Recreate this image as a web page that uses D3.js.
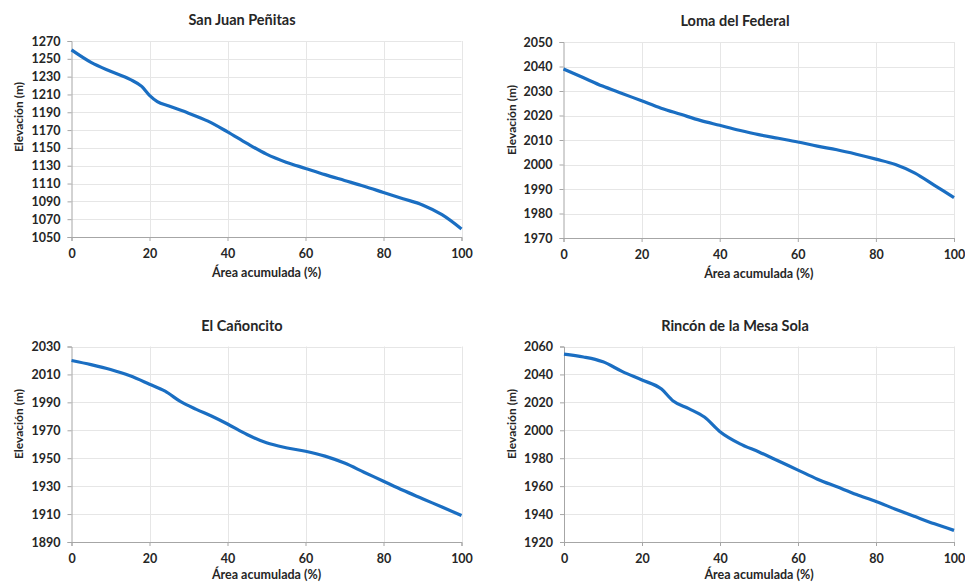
<!DOCTYPE html>
<html>
<head>
<meta charset="utf-8">
<script src="https://cdn.jsdelivr.net/npm/d3@7"></script>
<style>
  html, body { margin: 0; padding: 0; background: #fff; }
  svg { display: block; }
  text { font-family: Lato, "Open Sans", sans-serif; font-weight: bold; fill: #262626; }
</style>
</head>
<body>
<svg id="chart" width="965" height="583"></svg>
<script>
// Hypsometric curves: cumulative area (%) vs elevation (m) for four basins
const sanJuanArea = [0, 5, 10, 15, 18, 20, 22, 25, 30, 35, 40, 45, 50, 55, 60, 65, 70, 75, 80, 85, 90, 95, 100];
const sanJuanElev = [1260, 1246, 1236, 1227, 1219, 1209, 1202, 1197, 1189, 1180, 1168, 1155, 1143, 1134, 1127, 1120, 1113.5, 1107, 1100, 1093, 1086, 1075, 1059];

const lomaArea = [0, 5, 10, 15, 20, 25, 30, 35, 40, 45, 50, 55, 60, 65, 70, 75, 80, 85, 90, 95, 100];
const lomaElev = [2039, 2035.5, 2032, 2029, 2026, 2023, 2020.5, 2018, 2016, 2014, 2012.2, 2010.7, 2009.2, 2007.5, 2006, 2004.2, 2002.2, 2000, 1996.5, 1991.5, 1986.5];

const canoncitoArea = [0, 5, 10, 15, 20, 24, 28, 32, 36, 40, 45, 50, 55, 60, 65, 70, 75, 80, 85, 90, 95, 100];
const canoncitoElev = [2020, 2017, 2013.5, 2009, 2003, 1998, 1990.5, 1985, 1980, 1974.5, 1967, 1961, 1957.5, 1955, 1951.5, 1946.5, 1940, 1933.5, 1927, 1921, 1915, 1909];

const rinconArea = [0, 5, 8, 10, 15, 20, 25, 28, 32, 36, 40, 45, 50, 55, 60, 65, 70, 75, 80, 85, 90, 95, 100];
const rinconElev = [2054.5, 2052.5, 2050.8, 2049, 2042, 2036, 2029.5, 2021, 2015.5, 2009.5, 1999, 1990.5, 1984.5, 1978, 1971.5, 1965, 1959.5, 1954, 1949, 1943.5, 1938.2, 1933, 1928.3];

const xTicks = [0, 20, 40, 60, 80, 100];
const sanJuanTicks = [1050, 1070, 1090, 1110, 1130, 1150, 1170, 1190, 1210, 1230, 1250, 1270];
const lomaTicks = [1970, 1980, 1990, 2000, 2010, 2020, 2030, 2040, 2050];
const canoncitoTicks = [1890, 1910, 1930, 1950, 1970, 1990, 2010, 2030];
const rinconTicks = [1920, 1940, 1960, 1980, 2000, 2020, 2040, 2060];

const titles = ["San Juan Peñitas", "Loma del Federal", "El Cañoncito", "Rincón de la Mesa Sola"];
const xLabel = "Área acumulada (%)";
const yLabel = "Elevación (m)";

const panels = [
  { title: titles[0], xs: sanJuanArea, ys: sanJuanElev, ticks: sanJuanTicks,
    box: { l: 71.5, r: 461.5, t: 41, b: 237 }, titleX: 242, yTitleX: 19, yTitleY: 117, xTitleDy: 40 },
  { title: titles[1], xs: lomaArea, ys: lomaElev, ticks: lomaTicks,
    box: { l: 563.5, r: 954, t: 42, b: 238 }, titleX: 735, yTitleX: 512, yTitleY: 120, xTitleDy: 40 },
  { title: titles[2], xs: canoncitoArea, ys: canoncitoElev, ticks: canoncitoTicks,
    box: { l: 71.5, r: 461.5, t: 346.5, b: 542 }, titleX: 242, yTitleX: 19, yTitleY: 424, xTitleDy: 37 },
  { title: titles[3], xs: rinconArea, ys: rinconElev, ticks: rinconTicks,
    box: { l: 564, r: 954, t: 346.5, b: 542 }, titleX: 735, yTitleX: 512, yTitleY: 424, xTitleDy: 37 }
];

const svg = d3.select("#chart");

panels.forEach(p => {
  const b = p.box;
  const x = d3.scaleLinear().domain([0, 100]).range([b.l, b.r]);
  const y = d3.scaleLinear().domain(d3.extent(p.ticks)).range([b.b, b.t]);
  const g = svg.append("g");

  // grid
  g.append("g").selectAll("line").data(p.ticks.slice(1)).join("line")
    .attr("x1", b.l).attr("x2", b.r)
    .attr("y1", d => Math.round(y(d)) + 0.5).attr("y2", d => Math.round(y(d)) + 0.5)
    .attr("stroke", "#e6e6e6").attr("stroke-width", 1);
  g.append("g").selectAll("line").data(xTicks.slice(1)).join("line")
    .attr("x1", d => Math.round(x(d)) + 0.5).attr("x2", d => Math.round(x(d)) + 0.5)
    .attr("y1", b.t).attr("y2", b.b)
    .attr("stroke", "#e6e6e6").attr("stroke-width", 1);

  // axes
  const yAxis = g.append("g").attr("transform", `translate(${b.l},0)`)
    .call(d3.axisLeft(y).tickValues(p.ticks).tickSize(4).tickPadding(7).tickFormat(d3.format("d")));
  const xAxis = g.append("g").attr("transform", `translate(0,${b.b})`)
    .call(d3.axisBottom(x).tickValues(xTicks).tickSize(4).tickPadding(8).tickFormat(d3.format("d")));
  [yAxis, xAxis].forEach(a => {
    a.select(".domain").attr("stroke", "#a6a6a6");
    a.selectAll(".tick line").attr("stroke", "#a6a6a6");
    a.selectAll(".tick text").attr("font-size", 12.5).attr("font-family", "Lato, sans-serif")
      .attr("font-weight", "bold").attr("fill", "#262626");
  });

  // curve
  const pts = p.xs.map((v, i) => [v, p.ys[i]]);
  g.append("path").datum(pts)
    .attr("fill", "none").attr("stroke", "#1a6ec2").attr("stroke-width", 3.2)
    .attr("stroke-linejoin", "round")
    .attr("d", d3.line().x(d => x(d[0])).y(d => y(d[1])).curve(d3.curveMonotoneX));

  // titles
  g.append("text").attr("x", p.titleX).attr("y", b.t - 16)
    .attr("text-anchor", "middle").attr("font-size", 14.5).text(p.title);
  g.append("text").attr("x", (b.l + b.r) / 2).attr("y", b.b + p.xTitleDy)
    .attr("text-anchor", "middle").attr("font-size", 12.5).text(xLabel);
  g.append("text").attr("transform", `translate(${p.yTitleX},${p.yTitleY}) rotate(-90)`)
    .attr("text-anchor", "middle").attr("dy", "0.35em").attr("font-size", 12).text(yLabel);
});
</script>
</body>
</html>
